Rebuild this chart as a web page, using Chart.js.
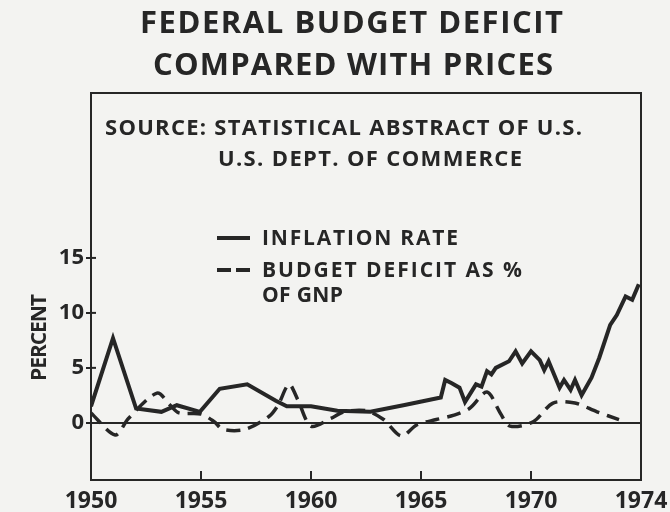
<!DOCTYPE html>
<html>
<head>
<meta charset="utf-8">
<script src="https://cdn.jsdelivr.net/npm/chart.js@4"></script>
<style>
  html, body { margin: 0; padding: 0; background: #f3f3f1; }
  #wrap { width: 670px; height: 512px; }
</style>
</head>
<body>
<div id="wrap"><canvas id="chart" width="670" height="512"></canvas></div>
<script>
// --- data ---
const inflationYears = [1950.0, 1951.0, 1952.05, 1953.2, 1953.9, 1954.95, 1955.85, 1957.1, 1958.4, 1958.9,
  1960.0, 1961.2, 1962.7, 1964.2, 1965.9, 1966.1, 1966.4, 1966.75, 1967.0, 1967.5, 1967.75, 1968.0, 1968.2,
  1968.4, 1969.0, 1969.3, 1969.6, 1970.0, 1970.4, 1970.6, 1970.8, 1971.3, 1971.5, 1971.8, 1972.0, 1972.3,
  1972.75, 1973.1, 1973.6, 1973.9, 1974.3, 1974.6, 1974.9];
const inflationRate = [1.5, 7.7, 1.3, 1.0, 1.6, 1.0, 3.1, 3.5, 2.0, 1.5,
  1.5, 1.1, 1.0, 1.6, 2.3, 3.9, 3.6, 3.2, 1.9, 3.5, 3.3, 4.7, 4.4,
  5.0, 5.6, 6.5, 5.4, 6.5, 5.7, 4.8, 5.6, 3.2, 3.9, 3.0, 3.9, 2.5,
  4.1, 5.9, 8.9, 9.8, 11.5, 11.2, 12.6];

const deficitYears = [1950.0, 1951.1, 1951.7, 1953.0, 1953.6, 1954.0, 1955.0, 1955.6, 1956.0, 1957.0, 1958.1,
  1958.5, 1959.0, 1959.4, 1960.0, 1960.9, 1961.5, 1962.5, 1963.3, 1964.1, 1964.8, 1965.7, 1966.5, 1967.2,
  1968.0, 1968.6, 1969.05, 1970.1, 1971.0, 1972.0, 1973.0, 1974.0];
const deficitPct = [0.9, -1.1, 0.4, 2.7, 1.6, 0.9, 0.8, 0.1, -0.6, -0.6, 0.6,
  1.6, 3.5, 2.1, -0.3, 0.4, 1.0, 1.1, 0.3, -1.2, -0.2, 0.3, 0.7, 1.3,
  2.8, 0.9, -0.3, 0.1, 1.8, 1.8, 1.0, 0.3];

const xTickValues = [1950, 1955, 1960, 1965, 1970, 1975];
const xTickLabels = ['1950', '1955', '1960', '1965', '1970', '1974'];
const yTickValues = [0, 5, 10, 15];

const titleLines = ['FEDERAL BUDGET DEFICIT', 'COMPARED WITH PRICES'];
const sourceLines = ['SOURCE: STATISTICAL ABSTRACT OF U.S.', 'U.S. DEPT. OF COMMERCE'];
const seriesNames = ['INFLATION RATE', 'BUDGET DEFICIT AS %', 'OF GNP'];

const INK = '#262626';
const FONT = '"Open Sans", Lato, sans-serif';

const toPoints = (xs, ys) => xs.map((x, i) => ({ x, y: ys[i] }));

// draw text stretched to a given width using letter spacing
const fitText = (ctx, text, x, y, width, font) => {
  ctx.font = font;
  ctx.letterSpacing = '0px';
  const w = ctx.measureText(text).width;
  const sp = (width - w) / (text.length - 1);
  ctx.letterSpacing = sp + 'px';
  ctx.textAlign = 'left';
  ctx.textBaseline = 'alphabetic';
  ctx.fillText(text, x, y);
  ctx.letterSpacing = '0px';
};

const decorPlugin = {
  id: 'decor',
  beforeDraw(chart) {
    const ctx = chart.ctx;
    ctx.save();
    ctx.fillStyle = '#f3f3f1';
    ctx.fillRect(0, 0, chart.width, chart.height);
    ctx.restore();
  },
  afterDraw(chart) {
    const { ctx, chartArea: a, scales } = chart;
    ctx.save();
    ctx.strokeStyle = INK;
    ctx.fillStyle = INK;

    // frame top + right
    ctx.lineWidth = 2;
    ctx.beginPath();
    ctx.moveTo(a.left, a.top);
    ctx.lineTo(a.right, a.top);
    ctx.lineTo(a.right, a.bottom);
    ctx.stroke();

    // inward ticks on the year axis
    xTickValues.slice(1, -1).forEach(v => {
      const px = scales.x.getPixelForValue(v);
      ctx.beginPath();
      ctx.moveTo(px, a.bottom);
      ctx.lineTo(px, a.bottom - 9);
      ctx.stroke();
    });
    // small inner stub of the percent ticks
    yTickValues.slice(1).forEach(v => {
      const py = scales.y.getPixelForValue(v);
      ctx.beginPath();
      ctx.moveTo(a.left, py);
      ctx.lineTo(a.left + 5, py);
      ctx.stroke();
    });

    // titles
    fitText(ctx, titleLines[0], 140, 33, 423, '700 31px ' + FONT);
    fitText(ctx, titleLines[1], 153, 75, 400, '700 31px ' + FONT);

    // source note
    fitText(ctx, sourceLines[0], 105, 135, 477, '700 22px ' + FONT);
    fitText(ctx, sourceLines[1], 218, 166, 304, '700 22px ' + FONT);

    // legend
    ctx.lineWidth = 4;
    ctx.beginPath();
    ctx.moveTo(217, 238);
    ctx.lineTo(250, 238);
    ctx.stroke();
    ctx.beginPath();
    ctx.moveTo(217, 270);
    ctx.lineTo(231, 270);
    ctx.moveTo(236, 270);
    ctx.lineTo(250, 270);
    ctx.stroke();
    fitText(ctx, seriesNames[0], 262, 245, 196, '700 21px ' + FONT);
    fitText(ctx, seriesNames[1], 262, 277, 260, '700 21px ' + FONT);
    fitText(ctx, seriesNames[2], 262, 302, 81, '700 21px ' + FONT);

    // y axis title
    ctx.translate(46, 337);
    ctx.rotate(-Math.PI / 2);
    fitText(ctx, 'PERCENT', -44, 0, 87, '700 21px ' + FONT);
    ctx.restore();
  }
};

new Chart(document.getElementById('chart'), {
  type: 'line',
  data: {
    datasets: [
      {
        label: seriesNames[0],
        data: toPoints(inflationYears, inflationRate),
        borderColor: INK,
        borderWidth: 4,
        pointRadius: 0,
        tension: 0,
        borderJoinStyle: 'miter'
      },
      {
        label: seriesNames[1] + ' ' + seriesNames[2],
        data: toPoints(deficitYears, deficitPct),
        borderColor: INK,
        borderWidth: 3.5,
        borderDash: [14, 8],
        pointRadius: 0,
        tension: 0.3
      }
    ]
  },
  options: {
    responsive: false,
    animation: false,
    layout: { padding: { top: 93, right: 29, left: 0, bottom: 0 } },
    plugins: { legend: { display: false }, tooltip: { enabled: false } },
    scales: {
      x: {
        type: 'linear',
        min: 1950,
        max: 1975,
        afterBuildTicks: (s) => { s.ticks = xTickValues.map(v => ({ value: v })); },
        afterFit: (s) => { s.height = 32; s.paddingLeft = 0; s.paddingRight = 0; },
        ticks: {
          color: INK,
          font: { family: FONT, size: 23, weight: '700' },
          padding: 0,
          maxRotation: 0,
          autoSkip: false,
          callback: (v) => xTickLabels[xTickValues.indexOf(v)]
        },
        grid: { display: false },
        border: { display: true, color: INK, width: 2 }
      },
      y: {
        min: -5.2,
        max: 30,
        afterBuildTicks: (s) => { s.ticks = yTickValues.map(v => ({ value: v })); },
        afterFit: (s) => { s.width = 91; },
        ticks: {
          color: INK,
          font: { family: FONT, size: 22, weight: '700' },
          padding: 2
        },
        grid: {
          color: (c) => c.tick && c.tick.value === 0 ? INK : 'transparent',
          tickColor: INK,
          tickLength: 5,
          lineWidth: 2
        },
        border: { display: true, color: INK, width: 2 }
      }
    }
  },
  plugins: [decorPlugin]
});
</script>
</body>
</html>
